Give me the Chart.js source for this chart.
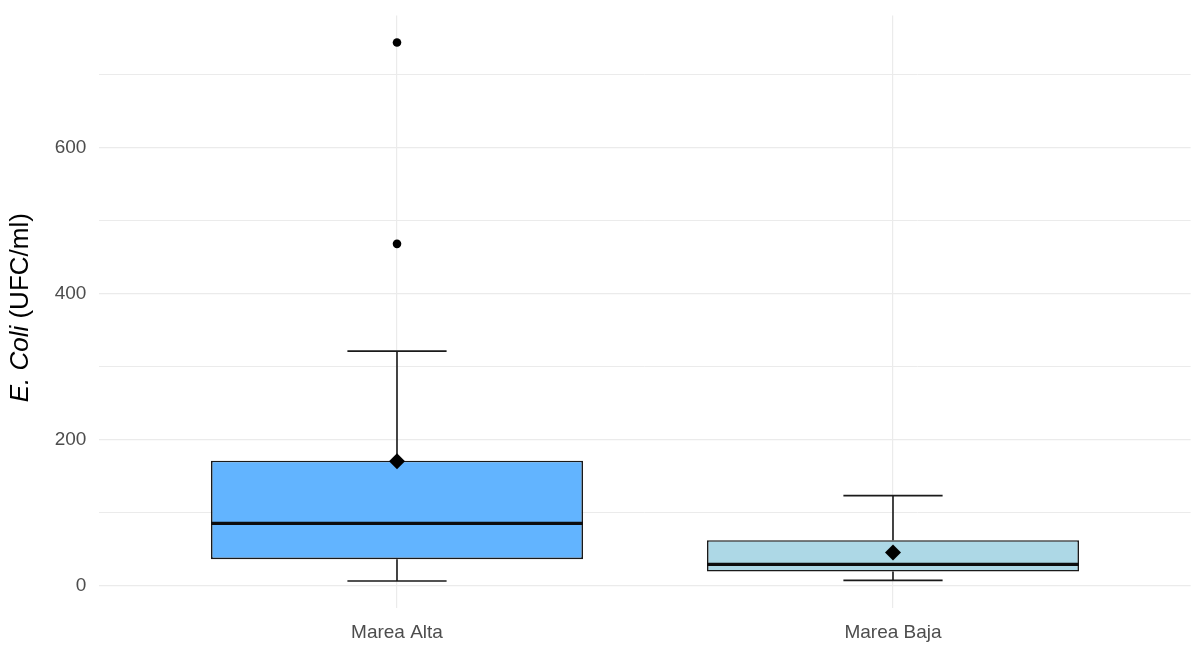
<!DOCTYPE html>
<html lang="es">
<head>
    <meta charset="UTF-8">
    <title>E. Coli por marea</title>
    <script src="https://cdn.jsdelivr.net/npm/chart.js"></script>
    <style>
        html, body {
            margin: 0;
            padding: 0;
            background: #ffffff;
        }
        #chart-container {
            width: 1192px;
            height: 646px;
        }
    </style>
</head>
<body>

    <div id="chart-container">
        <canvas id="boxChart" width="1192" height="646"></canvas>
    </div>

    <script>
        // Resumen de cada caja (UFC/ml)
        const categories = ['Marea Alta', 'Marea Baja'];
        const lowerWhisker = [6, 7];
        const q1 = [36, 19];
        const median = [85, 29];
        const q3 = [171, 62];
        const upperWhisker = [321, 123];
        const means = [170, 45];
        const outliers = [[744, 468], []];
        const yTicks = [0, 100, 200, 300, 400, 500, 600, 700];
        const boxColors = ['#62B4FF', '#ADD8E6'];

        const FONT = '"Liberation Sans", Arial, sans-serif';

        // limites del eje y con 5% de margen como en ggplot
        const allValues = lowerWhisker.concat(upperWhisker, outliers.flat());
        const yLo = Math.min(...allValues);
        const yHi = Math.max(...allValues);
        const yPad = (yHi - yLo) * 0.05;

        const boxData = categories.map((c, i) => ({ x: i + 1, y: [q1[i], q3[i]] }));
        const outlierData = [];
        outliers.forEach((list, i) => list.forEach(v => outlierData.push({ x: i + 1, y: v })));
        const meanData = means.map((m, i) => ({ x: i + 1, y: m }));

        // bigotes y mediana dibujados con las escalas del grafico
        const boxplotParts = {
            id: 'boxplotParts',
            beforeDatasetsDraw(chart) {
                const { ctx, scales: { x, y } } = chart;
                ctx.save();
                ctx.strokeStyle = '#1a1a1a';
                ctx.lineWidth = 1.6;
                categories.forEach((c, i) => {
                    const cx = x.getPixelForValue(i + 1);
                    const capL = x.getPixelForValue(i + 1 - 0.1);
                    const capR = x.getPixelForValue(i + 1 + 0.1);
                    ctx.beginPath();
                    ctx.moveTo(cx, y.getPixelForValue(q3[i]));
                    ctx.lineTo(cx, y.getPixelForValue(upperWhisker[i]));
                    ctx.moveTo(cx, y.getPixelForValue(q1[i]));
                    ctx.lineTo(cx, y.getPixelForValue(lowerWhisker[i]));
                    ctx.moveTo(capL, y.getPixelForValue(upperWhisker[i]));
                    ctx.lineTo(capR, y.getPixelForValue(upperWhisker[i]));
                    ctx.moveTo(capL, y.getPixelForValue(lowerWhisker[i]));
                    ctx.lineTo(capR, y.getPixelForValue(lowerWhisker[i]));
                    ctx.stroke();
                });
                ctx.restore();
            },
            afterDatasetDraw(chart, args) {
                if (args.meta.type !== 'bar') return;
                const { ctx, scales: { x, y } } = chart;
                ctx.save();
                ctx.strokeStyle = '#0d0d0d';
                ctx.lineWidth = 3.2;
                categories.forEach((c, i) => {
                    const py = y.getPixelForValue(median[i]);
                    ctx.beginPath();
                    ctx.moveTo(x.getPixelForValue(i + 1 - 0.375), py);
                    ctx.lineTo(x.getPixelForValue(i + 1 + 0.375), py);
                    ctx.stroke();
                });
                ctx.restore();
            }
        };

        // titulo del eje y con "E. Coli" en cursiva
        const yTitle = {
            id: 'yTitle',
            afterDraw(chart) {
                const { ctx, chartArea } = chart;
                const partA = 'E. Coli';
                const partB = ' (UFC/ml)';
                const size = 26;
                ctx.save();
                ctx.fillStyle = '#000000';
                ctx.textBaseline = 'middle';
                ctx.textAlign = 'left';
                ctx.font = 'italic ' + size + 'px ' + FONT;
                const wA = ctx.measureText(partA).width;
                ctx.font = size + 'px ' + FONT;
                const wB = ctx.measureText(partB).width;
                const cy = (chartArea.top + chartArea.bottom) / 2 - 4;
                ctx.translate(21, cy);
                ctx.rotate(-Math.PI / 2);
                const start = -(wA + wB) / 2;
                ctx.font = 'italic ' + size + 'px ' + FONT;
                ctx.fillText(partA, start, 0);
                ctx.font = size + 'px ' + FONT;
                ctx.fillText(partB, start + wA, 0);
                ctx.restore();
            }
        };

        const config = {
            type: 'bar',
            data: {
                datasets: [
                    {
                        type: 'scatter',
                        label: 'Media',
                        data: meanData,
                        pointStyle: 'rectRot',
                        pointRadius: 8,
                        backgroundColor: '#000000',
                        borderColor: '#000000',
                        borderWidth: 0,
                        order: 1
                    },
                    {
                        type: 'scatter',
                        label: 'Atipicos',
                        data: outlierData,
                        pointStyle: 'circle',
                        pointRadius: 4.3,
                        backgroundColor: '#000000',
                        borderColor: '#000000',
                        borderWidth: 0,
                        order: 2
                    },
                    {
                        type: 'bar',
                        label: 'Caja',
                        data: boxData,
                        backgroundColor: boxColors,
                        borderColor: '#1a1a1a',
                        borderWidth: 1.6,
                        borderSkipped: false,
                        barPercentage: 0.75,
                        categoryPercentage: 1,
                        order: 3
                    }
                ]
            },
            options: {
                responsive: false,
                animation: false,
                layout: {
                    autoPadding: false,
                    padding: { top: 15.5, right: 1.4, bottom: 0, left: 0 }
                },
                plugins: {
                    legend: { display: false },
                    tooltip: { enabled: false }
                },
                scales: {
                    x: {
                        type: 'linear',
                        min: 0.4,
                        max: 2.6,
                        offset: false,
                        afterBuildTicks: (scale) => {
                            scale.ticks = categories.map((c, i) => ({ value: i + 1 }));
                        },
                        afterFit: (scale) => {
                            scale.height = 38;
                            scale.paddingLeft = 0;
                            scale.paddingRight = 0;
                        },
                        ticks: {
                            callback: (v) => categories[v - 1],
                            color: '#4d4d4d',
                            font: { family: FONT, size: 19 },
                            padding: 13,
                            maxRotation: 0
                        },
                        grid: {
                            color: '#ebebeb',
                            lineWidth: 1.2,
                            offset: false,
                            drawTicks: false
                        },
                        border: { display: false }
                    },
                    y: {
                        type: 'linear',
                        min: yLo - yPad,
                        max: yHi + yPad,
                        afterBuildTicks: (scale) => {
                            scale.ticks = yTicks.map(v => ({ value: v }));
                        },
                        afterFit: (scale) => {
                            scale.width = 99.4;
                            scale.paddingTop = 0;
                            scale.paddingBottom = 0;
                        },
                        ticks: {
                            callback: (v) => (v % 200 === 0 ? String(v) : ''),
                            color: '#4d4d4d',
                            font: { family: FONT, size: 19 },
                            padding: 13
                        },
                        grid: {
                            color: '#ebebeb',
                            lineWidth: (ctx) => (ctx.tick && ctx.tick.value % 200 === 0 ? 1.3 : 1),
                            drawTicks: false
                        },
                        border: { display: false }
                    }
                }
            },
            plugins: [boxplotParts, yTitle]
        };

        const boxChart = new Chart(document.getElementById('boxChart').getContext('2d'), config);
    </script>
</body>
</html>
